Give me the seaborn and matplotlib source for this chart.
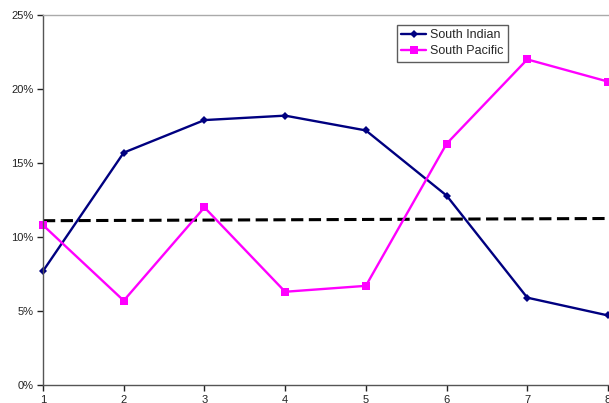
import matplotlib
matplotlib.use("Agg")
import matplotlib.pyplot as plt
import seaborn as sns
import pandas as pd
from matplotlib.ticker import FuncFormatter

x_vals = [1, 2, 3, 4, 5, 6, 7, 8]
south_indian = [7.7, 15.7, 17.9, 18.2, 17.2, 12.8, 5.9, 4.7]
south_pacific = [10.8, 5.7, 12.0, 6.3, 6.7, 16.3, 22.0, 20.5]
ref_x = [1, 8]
ref_y = [11.1, 11.25]

sns.set_theme(style="white")
plt.rcParams['font.family'] = ['Liberation Sans', 'DejaVu Sans']

df = pd.DataFrame({
    "x": x_vals * 2,
    "y": south_indian + south_pacific,
    "series": ["South Indian"] * 8 + ["South Pacific"] * 8,
})

fig = plt.figure(figsize=(6.09, 4.03), dpi=100)
ax = fig.add_axes([43/609, 18/403, 565/609, 370/403])

sns.lineplot(x=ref_x, y=ref_y, ax=ax, color="black", linewidth=2.2,
             linestyle=(0, (4, 1.8)), legend=False)
sns.lineplot(data=df, x="x", y="y", hue="series", style="series",
             palette={"South Indian": "#000080", "South Pacific": "#FF00FF"},
             markers={"South Indian": "D", "South Pacific": "s"},
             dashes=False, linewidth=1.7, markersize=5, markeredgewidth=0,
             ax=ax, clip_on=False)
for ln in ax.get_lines():
    if ln.get_marker() == "D":
        ln.set_markersize(4.5)
    elif ln.get_marker() == "s":
        ln.set_markersize(5.5)

ax.set_xlim(1, 8)
ax.set_ylim(0, 25)
ax.set_xticks(x_vals)
ax.set_yticks([0, 5, 10, 15, 20, 25])
ax.yaxis.set_major_formatter(FuncFormatter(lambda v, p: f"{int(v)}%"))
ax.set_xlabel("")
ax.set_ylabel("")
ax.tick_params(axis="both", which="both", labelsize=8, colors="#222222",
               length=4, width=1, direction="out", pad=3, left=True, bottom=True)
for s in ["left", "bottom"]:
    ax.spines[s].set_color("#555555")
    ax.spines[s].set_linewidth(1)
ax.spines["top"].set_color("#aaaaaa")
ax.spines["top"].set_linewidth(1)
ax.spines["right"].set_visible(False)

handles, labels = ax.get_legend_handles_labels()
leg = ax.legend(handles, labels, loc="upper left",
                bbox_to_anchor=(354/565, 1 - 10/370), borderaxespad=0,
                fontsize=9, frameon=True, fancybox=False, edgecolor="#333333",
                handlelength=2.0, borderpad=0.35, labelspacing=0.3,
                handletextpad=0.3)
leg.get_frame().set_linewidth(1)

fig.savefig("out.png", dpi=100)
